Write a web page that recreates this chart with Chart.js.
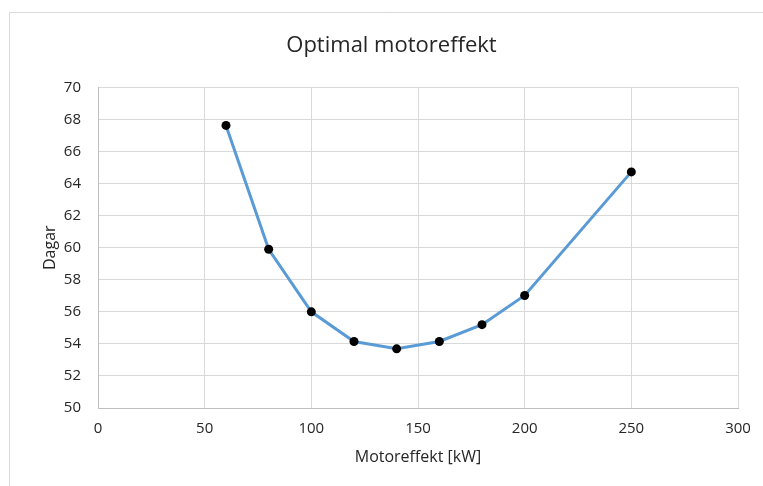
<!DOCTYPE html>
<html>
<head>
<meta charset="utf-8">
<title>Optimal motoreffekt</title>
<script src="https://cdn.jsdelivr.net/npm/chart.js@4.4.1/dist/chart.umd.min.js"></script>
<style>
  html, body { margin: 0; padding: 0; background: #fff; }
  #chart { display: block; }
</style>
</head>
<body>
<canvas id="chart" width="763" height="486"></canvas>
<script>
// data
const motorPower = [60, 80, 100, 120, 140, 160, 180, 200, 250];   // kW
const days = [67.63, 59.9, 56.0, 54.15, 53.69, 54.15, 55.2, 57.02, 64.73];

const xTicks = [0, 50, 100, 150, 200, 250, 300];
const yTicks = [50, 52, 54, 56, 58, 60, 62, 64, 66, 68, 70];

const titleText = "Optimal motoreffekt";
const xTitle = "Motoreffekt [kW]";
const yTitle = "Dagar";

document.addEventListener("DOMContentLoaded", function () {

    Chart.defaults.font.family = "'Open Sans', sans-serif";
    Chart.defaults.color = "#262626";

    // light grey frame round the chart (only top and left are visible)
    const framePlugin = {
        id: "frame",
        beforeDraw(chart) {
            const c = chart.ctx;
            c.save();
            c.strokeStyle = "#d9d9d9";
            c.lineWidth = 1;
            c.beginPath();
            c.moveTo(9.5, chart.height);
            c.lineTo(9.5, 12.5);
            c.lineTo(chart.width, 12.5);
            c.stroke();
            c.restore();
        }
    };

    const points = motorPower.map((p, i) => ({ x: p, y: days[i] }));

    const ctx = document.getElementById("chart");
    new Chart(ctx, {
        type: "scatter",
        data: {
            datasets: [{
                data: points,
                showLine: true,
                borderColor: "#5b9bd5",
                borderWidth: 3,
                tension: 0,
                pointRadius: 4.5,
                pointBackgroundColor: "#000",
                pointBorderColor: "#000",
                pointBorderWidth: 0
            }]
        },
        options: {
            responsive: false,
            animation: false,
            devicePixelRatio: 1,
            // left padding shifts the title centre to match the original
            layout: { padding: { top: 0, right: 25, bottom: 0, left: 45 } },
            plugins: {
                legend: { display: false },
                tooltip: { enabled: false },
                title: {
                    display: true,
                    text: titleText,
                    font: { size: 22, weight: "normal" },
                    padding: { top: 33, bottom: 28 }
                }
            },
            scales: {
                x: {
                    type: "linear",
                    min: xTicks[0],
                    max: xTicks[xTicks.length - 1],
                    afterBuildTicks: (s) => { s.ticks = xTicks.map(v => ({ value: v })); },
                    afterFit: (s) => { s.height = 78; },
                    grid: { color: "#d9d9d9", drawTicks: false },
                    border: { color: "#bfbfbf" },
                    ticks: { font: { size: 15 }, padding: 12 },
                    title: {
                        display: true,
                        text: xTitle,
                        font: { size: 16 },
                        padding: { top: 0, bottom: 19 }
                    }
                },
                y: {
                    min: yTicks[0],
                    max: yTicks[yTicks.length - 1],
                    afterBuildTicks: (s) => { s.ticks = yTicks.map(v => ({ value: v })); },
                    afterFit: (s) => { s.width = 53; },
                    grid: { color: "#d9d9d9", drawTicks: false },
                    border: { color: "#bfbfbf" },
                    ticks: { font: { size: 15 }, padding: 17 },
                    title: {
                        display: true,
                        text: yTitle,
                        font: { size: 16 },
                        padding: { top: -4, bottom: 0 }
                    }
                }
            }
        },
        plugins: [framePlugin]
    });
});
</script>
</body>
</html>
